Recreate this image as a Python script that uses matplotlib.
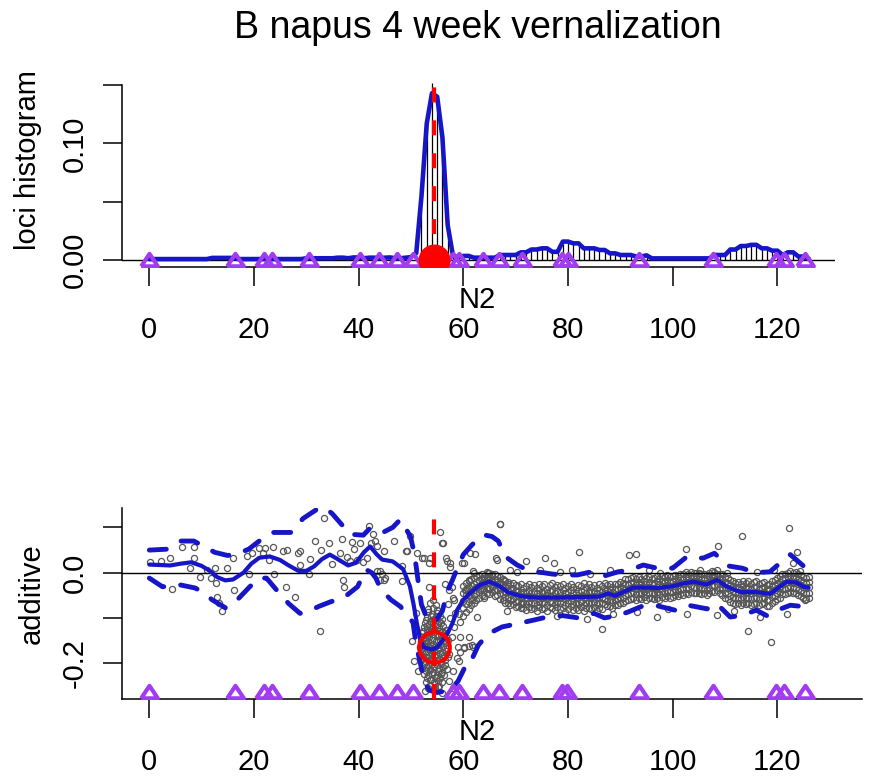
import numpy as np
import matplotlib.pyplot as plt

plt.rcParams['font.family'] = ['Liberation Sans', 'DejaVu Sans']

title = "B napus 4 week vernalization"
x_label = "N2"
y_label_top = "loci histogram"
y_label_bottom = "additive"

# marker positions (cM) and QTL position
marker_cm = [0, 16.4, 22.0, 23.5, 30.6, 40.3, 43.9, 47.3, 50.4, 58.1, 59.1, 63.8,
             66.9, 71.2, 78.9, 79.9, 93.5, 107.7, 119.8, 121.2, 125.3]
qtl_cm = 54.4
qtl_add = -0.165

# top panel: loci histogram (x 1/1000), one bin per cM from 0 to 126
hist_pos = list(range(127))
hist_milli = [0.5, 0.5, 0.5, 0.5, 0.5, 0.5, 0.5, 0.5, 0.5, 0.5,
              0.5, 0.5, 1.5, 1.5, 1.5, 1.5, 1.5, 0.5, 0.5, 0.5,
              0.5, 0.5, 0.5, 0.5, 0.5, 0.5, 0.5, 0.5, 0.5, 0.5,
              1, 1, 1, 1, 1, 1, 1.5, 1.5, 1, 1.5,
              1.5, 1, 1.5, 1.5, 1, 1.5, 1.5, 1, 1, 1.5,
              2, 8, 50, 125, 152, 140, 100, 35, 5, 2,
              3, 3, 2, 2, 2, 2, 2, 4, 4, 4,
              4, 6, 6, 8.5, 8.5, 9.5, 9.5, 6.5, 6, 14,
              15, 13.5, 13.5, 9.5, 9.5, 9.5, 8, 8, 5.5, 5.5,
              4, 4, 4, 2.5, 2.5, 3.5, 1, 1, 1, 1,
              1, 1, 1, 1, 1, 1, 1, 1, 4, 4,
              4, 8.5, 8.5, 11.5, 11.5, 12.5, 12.5, 9.5, 9.5, 7.5,
              7.5, 4, 4, 6, 2.5, 2.5, 0.5]
dens_milli = [0.8, 0.8, 0.8, 0.8, 0.8, 0.8, 0.8, 0.8, 0.8, 0.8,
              0.8, 0.8, 1.8, 1.8, 1.8, 1.8, 1.8, 0.8, 0.8, 0.8,
              0.8, 0.8, 0.8, 0.8, 0.8, 0.8, 0.8, 0.8, 0.8, 0.8,
              1.5, 1.5, 1.5, 1.5, 1.5, 1.5, 2, 2, 1.5, 2.2,
              2.2, 1.5, 2, 2, 1.5, 2, 2.2, 1.5, 1.5, 2,
              2.5, 6, 55, 117, 143, 140, 105, 30, 4, 2,
              3.5, 3.5, 2, 2, 2, 2, 2, 4.3, 4.3, 4.3,
              4.3, 6.6, 6.6, 9, 9, 10, 10, 7, 7, 15.8,
              15.8, 14.3, 14.3, 10, 10, 10, 8.6, 8.6, 5.7, 5.7,
              4.3, 4.3, 4.3, 3, 3, 4, 1.4, 1.4, 1.4, 1.4,
              1.4, 1.4, 1.4, 1.4, 1.4, 1.4, 1.4, 1.4, 4.3, 4.3,
              4.3, 9, 9, 12, 12, 13, 13, 10, 10, 8,
              8, 4.3, 6.6, 6.6, 3, 3, 1]

# bottom panel: smoothed additive effect and its band
mean_cm = [0, 2, 4, 6, 8, 10, 11.7, 13, 14.5, 16, 18, 19.5, 21, 23, 25, 26.5, 28.5, 30,
           31.5, 33, 34.5, 36, 38, 39.5, 41, 42.2, 43.5, 44.5, 46.5, 48.5, 49.8, 50.5,
           51.1, 51.8, 52.5, 54, 55, 56, 57, 58, 58.8, 60, 61.3, 63.2, 65, 67, 68.5, 71,
           74, 78, 82, 86, 87.6, 89, 92.5, 95, 97, 100, 102, 104, 106.5, 108.5, 110.4,
           113, 116, 118.6, 120, 121.8, 123.7, 125, 126]
mean_add = [0.018, 0.017, 0.016, 0.020, 0.023, 0.015, 0.003, -0.010, -0.017, -0.015,
            0.000, 0.020, 0.033, 0.036, 0.028, 0.017, 0.004, 0.004, 0.014, 0.030, 0.040,
            0.030, 0.016, 0.022, 0.045, 0.058, 0.040, 0.029, 0.025, 0.008, -0.030, -0.070,
            -0.110, -0.150, -0.165, -0.170, -0.165, -0.150, -0.134, -0.110, -0.083, -0.060,
            -0.045, -0.027, -0.020, -0.030, -0.043, -0.052, -0.055, -0.055, -0.054, -0.053,
            -0.046, -0.051, -0.033, -0.033, -0.034, -0.030, -0.024, -0.020, -0.026, -0.016,
            -0.031, -0.043, -0.043, -0.047, -0.035, -0.020, -0.022, -0.031, -0.033]
upper_cm = [0, 3.4, 6, 8.5, 10.5, 12.5, 15, 17.5, 19, 21, 23.6, 27, 29.4, 32, 33.5, 35,
            36.5, 38.4, 40.9, 42.3, 44.8, 46.5, 48, 49.9, 50.5, 51, 51.5, 52, 53, 54.5,
            56, 57, 57.9, 58.5, 60, 61.7, 63.8, 65.5, 66.7, 68, 70.3, 72.8, 75.3, 77, 78.9,
            81.8, 84.5, 87, 89.6, 91.9, 94.4, 97, 100, 102.8, 105.8, 108, 110.6, 113.3,
            115.8, 118.6, 120.5, 122.5, 125, 126]
upper_add = [0.050, 0.052, 0.070, 0.070, 0.058, 0.045, 0.038, 0.045, 0.052, 0.070, 0.089,
             0.089, 0.120, 0.140, 0.145, 0.130, 0.110, 0.085, 0.083, 0.100, 0.090, 0.100,
             0.118, 0.080, 0.050, 0.014, -0.030, -0.070, -0.100, -0.110, -0.085, -0.040,
             -0.017, 0.000, 0.040, 0.062, 0.084, 0.080, 0.070, 0.036, 0.017, 0.003, 0.000,
             -0.003, -0.005, -0.005, 0.002, -0.007, 0.002, 0.006, 0.017, 0.010, 0.010,
             0.036, 0.032, 0.043, 0.015, 0.010, 0.000, 0.002, 0.021, 0.040, 0.015, 0.020]
lower_cm = [0, 2.5, 4.5, 5.9, 8.8, 10.5, 12, 14.6, 16, 17.3, 19.2, 21, 22.4, 24.3, 26.6,
            28.8, 30.5, 32.3, 34.5, 37.3, 39.8, 41.4, 42.5, 43.3, 44.3, 46.2, 48, 49.3,
            50.4, 51, 51.8, 52.5, 53.5, 55, 57.5, 59, 60.7, 61.3, 62.9, 64.8, 67.4, 70.3,
            73.4, 76, 79, 82, 85, 87, 89.4, 91.5, 94.4, 97, 100.5, 103, 106.6, 108.5, 111,
            113, 116, 118, 120, 122.5, 125, 126]
lower_add = [-0.012, -0.031, -0.030, -0.027, -0.034, -0.045, -0.060, -0.078, -0.070,
             -0.054, -0.031, -0.012, -0.012, -0.038, -0.068, -0.090, -0.085, -0.075,
             -0.065, -0.054, -0.031, 0.007, 0.000, -0.012, -0.038, -0.060, -0.075, -0.094,
             -0.110, -0.160, -0.200, -0.240, -0.260, -0.265, -0.260, -0.240, -0.200, -0.200,
             -0.160, -0.135, -0.120, -0.113, -0.105, -0.098, -0.095, -0.100, -0.090, -0.100,
             -0.095, -0.087, -0.073, -0.073, -0.083, -0.072, -0.080, -0.069, -0.098, -0.095,
             -0.083, -0.095, -0.083, -0.072, -0.075, -0.078]

# scattered individual estimates (read point by point)
scat_cm = [0.2, 2.2, 4.0, 4.4, 6.2, 7.7, 8.5, 8.5, 9.6, 11.0, 11.7, 12.6, 12.8, 13.0, 13.4,
           13.9, 14.8, 16.0, 16.1, 18.7, 19.0, 19.6, 20.9, 21.8, 22.2, 22.8, 23.6, 23.8,
           25.5, 26.3, 26.2, 27.8, 28.5, 28.8, 28.8, 30.6, 30.7, 31.6, 32.7, 32.8, 33.3,
           34.4, 34.9, 36.5, 36.8, 37.1, 37.2, 37.8, 38.3, 38.7, 39.2, 39.7, 40.3, 40.9,
           41.6, 41.9, 42.3, 42.7, 43.2, 43.5, 44.0, 44.4, 44.8, 44.8, 45.1, 46.7, 48.3,
           49.1, 49.9, 52.1, 53.7,
           43.5, 44.1, 49.2, 50.2, 52.4, 53.5, 53.5, 54.3, 55.9, 56.7, 57.4, 57.8, 58.1,
           58.5, 58.9, 59.4, 59.7, 60.7, 61.3, 61.9, 62.6, 63.5, 64.8, 66.4, 67.0, 67.7,
           50.5, 51.4, 52.7, 54.6, 55.9, 57.2, 58.1, 59.1, 60.1, 61.0, 61.9, 58.1, 55.6,
           48.3, 51.1, 51.0, 50.8, 57.5, 57.0,
           56.9, 57.5, 56.6, 57.2, 58.2, 59.1, 58.2, 59.4, 60.1, 61.0, 61.7, 58.8, 57.8,
           60.4, 61.0, 62.0, 62.6, 63.2, 64.5, 64.8, 61.7, 63.9, 65.8, 66.8, 67.7, 69.0,
           70.3, 71.2, 59.4, 56.2,
           60.1, 62.3, 66.3, 72.0, 75.7, 77.3, 82.2, 91.6, 93.0, 102.6, 108.6, 113.3, 122.2,
           123.8, 67.1, 86.6, 99.2, 114.4, 118.8, 68.4, 74.7, 78.5, 80.8, 84.3, 88.1, 95.4,
           97.6, 105.3, 110.4, 116.1, 119.3, 124.4, 78.0, 83.6, 88.7, 93.2, 97.0, 102.7,
           108.5, 111.7, 116.8, 121.8, 125.3, 123.0]
scat_add = [0.023, 0.025, 0.033, -0.036, 0.057, 0.010, 0.057, 0.033, -0.010, 0.007, -0.012,
            0.010, -0.023, -0.053, -0.068, -0.084, 0.010, 0.033, -0.038, 0.037, -0.004,
            0.044, 0.055, 0.044, 0.055, 0.028, 0.057, -0.004, 0.048, 0.051, -0.032, -0.053,
            0.044, 0.048, 0.018, -0.004, 0.031, 0.070, -0.128, 0.050, 0.122, 0.066, 0.020,
            0.044, 0.074, -0.016, -0.031, 0.035, 0.025, 0.068, 0.053, 0.029, 0.066, 0.023,
            0.033, 0.104, 0.066, 0.085, 0.070, 0.059, 0.003, -0.004, -0.016, 0.048, -0.012,
            0.070, -0.019, 0.048, 0.081, 0.033, 0.033,
            0.003, -0.016, 0.048, -0.150, 0.033, 0.022, -0.031, -0.060, 0.066, 0.033, 0.022,
            -0.031, -0.057, -0.090, -0.165, -0.176, 0.022, -0.034, 0.044, 0.003, -0.098,
            -0.023, -0.016, 0.029, 0.107, -0.060,
            -0.195, -0.217, -0.262, -0.254, -0.266, -0.240, -0.217, -0.195, -0.165, -0.142,
            -0.165, -0.254, 0.089, 0.014, 0.044, -0.090, -0.120, -0.100, -0.070,
            0.025, 0.012, -0.024, -0.039, -0.061, -0.091, -0.121, -0.143, -0.166, -0.162,
            -0.160, -0.188, -0.143, -0.039, -0.016, -0.001, -0.031, -0.039, -0.016, -0.001,
            -0.061, -0.057, -0.039, -0.024, -0.016, 0.006, 0.002, -0.069, -0.110, 0.066,
            0.021, 0.042, 0.032, 0.025, 0.032, 0.022, 0.045, 0.040, 0.041, 0.052, 0.060,
            0.082, 0.099, 0.045, 0.107, -0.125, -0.080, -0.128, -0.153, -0.084, 0.006,
            0.002, 0.007, -0.002, 0.006, 0.006, -0.001, 0.006, -0.001, 0.002, 0.007, 0.004,
            -0.095, -0.102, -0.091, -0.087, -0.098, -0.091, -0.093, -0.084, -0.098, -0.091,
            -0.061, 0.022]

# dense cluster under the QTL
blob_cm = [53.6, 54.8,
           53.2, 54.1, 55.0,
           52.8, 53.6, 54.4, 55.3, 56.0,
           52.4, 53.1, 53.8, 54.6, 55.4, 56.2,
           52.1, 52.8, 53.5, 54.2, 55.0, 55.7, 56.5,
           51.9, 52.6, 53.3, 54.0, 54.7, 55.5, 56.3, 57.0,
           51.8, 52.5, 53.2, 53.9, 54.6, 55.3, 56.1, 56.9,
           51.9, 52.6, 53.3, 54.0, 54.8, 55.6, 56.4, 57.2,
           52.0, 52.8, 53.5, 54.3, 55.0, 55.8, 56.6,
           52.2, 53.0, 53.7, 54.5, 55.3, 56.1, 56.9,
           52.5, 53.3, 54.1, 54.9, 55.7, 56.4,
           52.8, 53.6, 54.4, 55.2, 56.0,
           53.3, 54.2, 55.1,
           53.3, 54.2, 55.0,
           53.0, 53.9, 54.7, 55.5,
           52.6, 53.4, 54.2, 55.0, 55.8,
           52.3, 53.0, 53.8, 54.5, 55.3, 56.0, 56.7,
           52.0, 52.7, 53.5, 54.3, 55.1, 55.9, 56.7,
           52.1, 52.9, 53.6, 54.3, 55.1, 55.8, 56.6,
           52.1, 52.9, 53.6, 54.4, 55.1, 55.9, 56.7,
           52.3, 53.1, 53.9, 54.6, 55.4, 56.2, 57.0,
           52.5, 53.3, 54.1, 54.9, 55.7, 56.5,
           52.8, 53.6, 54.3, 55.1, 55.9,
           53.1, 53.9, 54.7, 55.5,
           53.7, 54.6, 55.4]
blob_add = [-0.068, -0.072,
            -0.088, -0.092, -0.089,
            -0.104, -0.107, -0.103, -0.106, -0.102,
            -0.121, -0.118, -0.122, -0.119, -0.121, -0.117,
            -0.134, -0.137, -0.133, -0.136, -0.135, -0.138, -0.133,
            -0.151, -0.148, -0.152, -0.149, -0.151, -0.148, -0.152, -0.149,
            -0.164, -0.167, -0.163, -0.166, -0.165, -0.167, -0.163, -0.166,
            -0.181, -0.178, -0.182, -0.179, -0.181, -0.178, -0.182, -0.179,
            -0.194, -0.197, -0.193, -0.196, -0.194, -0.197, -0.193,
            -0.211, -0.208, -0.212, -0.209, -0.211, -0.208, -0.212,
            -0.224, -0.227, -0.223, -0.226, -0.224, -0.227,
            -0.241, -0.238, -0.242, -0.239, -0.241,
            -0.254, -0.257, -0.253,
            -0.080, -0.078, -0.082,
            -0.097, -0.095, -0.099, -0.096,
            -0.112, -0.114, -0.110, -0.113, -0.111,
            -0.128, -0.126, -0.129, -0.127, -0.130, -0.128, -0.126,
            -0.143, -0.145, -0.142, -0.144, -0.141, -0.145, -0.143,
            -0.158, -0.156, -0.159, -0.157, -0.160, -0.158, -0.156,
            -0.173, -0.175, -0.172, -0.174, -0.171, -0.175, -0.173,
            -0.188, -0.186, -0.189, -0.187, -0.190, -0.188, -0.186,
            -0.203, -0.205, -0.202, -0.204, -0.201, -0.205,
            -0.218, -0.216, -0.219, -0.217, -0.220,
            -0.233, -0.235, -0.232, -0.234,
            -0.248, -0.246, -0.250]

# dense band right of the QTL: columns every 0.5 cM, five estimates each (x 1/1000)
band_pos = [60.0, 60.5, 61.0, 61.5, 62.0, 62.5, 63.0, 63.5, 64.0, 64.5,
            65.0, 65.5, 66.0, 66.5, 67.0, 67.5, 68.0, 68.5, 69.0, 69.5,
            70.0, 70.5, 71.0, 71.5, 72.0, 72.5, 73.0, 73.5, 74.0, 74.5,
            75.0, 75.5, 76.0, 76.5, 77.0, 77.5, 78.0, 78.5, 79.0, 79.5,
            80.0, 80.5, 81.0, 81.5, 82.0, 82.5, 83.0, 83.5, 84.0, 84.5,
            85.0, 85.5, 86.0, 86.5, 87.0, 87.5, 88.0, 88.5, 89.0, 89.5,
            90.0, 90.5, 91.0, 91.5, 92.0, 92.5, 93.0, 93.5, 94.0, 94.5,
            95.0, 95.5, 96.0, 96.5, 97.0, 97.5, 98.0, 98.5, 99.0, 99.5,
            100.0, 100.5, 101.0, 101.5, 102.0, 102.5, 103.0, 103.5, 104.0, 104.5,
            105.0, 105.5, 106.0, 106.5, 107.0, 107.5, 108.0, 108.5, 109.0, 109.5,
            110.0, 110.5, 111.0, 111.5, 112.0, 112.5, 113.0, 113.5, 114.0, 114.5,
            115.0, 115.5, 116.0, 116.5, 117.0, 117.5, 118.0, 118.5, 119.0, 119.5,
            120.0, 120.5, 121.0, 121.5, 122.0, 122.5, 123.0, 123.5, 124.0, 124.5,
            125.0, 125.5, 126.0]
band_mid = [-62, -50, -49, -40, -39, -31, -30, -24, -26, -20,
            -22, -19, -26, -25, -33, -33, -42, -41, -48, -46,
            -52, -49, -54, -51, -56, -52, -55, -53, -57, -52,
            -55, -53, -56, -52, -54, -57, -53, -55, -52, -56,
            -54, -51, -56, -53, -55, -52, -57, -54, -53, -55,
            -52, -56, -53, -55, -46, -49, -48, -52, -49, -47,
            -44, -43, -37, -36, -34, -31, -35, -32, -34, -31,
            -35, -32, -33, -34, -31, -35, -29, -31, -28, -30,
            -29, -26, -27, -23, -24, -21, -22, -18, -19, -20,
            -20, -23, -22, -25, -21, -16, -17, -14, -21, -24,
            -31, -33, -39, -40, -44, -42, -45, -41, -44, -42,
            -45, -43, -42, -46, -44, -43, -47, -48, -41, -39,
            -34, -31, -24, -23, -21, -19, -22, -21, -26, -27,
            -31, -33, -32]
band_hi = [-30, -22, -18, -15, -12, -8, -5, -3, -8, 2,
           0, -4, -2, -8, -10, -14, -18, -20, -25, -22,
           -28, -30, -26, -33, -29, -25, -31, -27, -34, -24,
           -30, -26, -35, -28, -23, -32, -27, -30, -25, -33,
           -29, -24, -31, -35, -27, -30, -23, -32, -26, -31,
           -28, -33, -25, -30, -22, -27, -26, -31, -24, -25,
           -20, -22, -15, -13, -12, -9, -14, -10, -13, -8,
           -12, -9, -14, -11, -8, -13, -7, -10, -6, -9,
           -8, -5, -7, -2, -4, 1, -3, 2, -1, 0,
           -1, -4, -2, -6, 0, 3, 1, 5, -2, -3,
           -10, -12, -17, -19, -22, -20, -25, -18, -23, -19,
           -24, -21, -19, -26, -22, -20, -27, -25, -19, -16,
           -12, -8, -3, -2, 0, 3, -1, 1, -4, -6,
           -9, -12, -10]
band_q1 = [-45, -38, -33, -28, -25, -20, -17, -12, -15, -9,
           -11, -8, -14, -16, -21, -24, -30, -29, -37, -33,
           -40, -41, -42, -43, -44, -40, -45, -41, -46, -39,
           -44, -40, -46, -41, -39, -45, -41, -44, -38, -46,
           -42, -38, -44, -45, -41, -40, -39, -44, -40, -43,
           -40, -45, -39, -43, -35, -38, -37, -42, -37, -36,
           -32, -33, -26, -25, -23, -20, -25, -21, -24, -19,
           -24, -21, -23, -22, -19, -24, -18, -21, -17, -20,
           -18, -15, -17, -12, -14, -10, -12, -8, -10, -9,
           -10, -13, -11, -15, -10, -6, -8, -4, -11, -13,
           -20, -22, -28, -30, -33, -31, -35, -30, -34, -31,
           -35, -32, -31, -36, -33, -32, -37, -37, -30, -28,
           -23, -20, -13, -12, -10, -8, -11, -10, -15, -16,
           -20, -22, -21]
band_q3 = [-78, -70, -64, -57, -52, -46, -43, -37, -39, -33,
           -35, -31, -39, -38, -46, -47, -54, -55, -60, -58,
           -64, -62, -67, -64, -69, -64, -68, -66, -71, -64,
           -68, -65, -71, -64, -67, -70, -64, -68, -65, -71,
           -67, -63, -70, -66, -69, -64, -71, -66, -65, -68,
           -64, -70, -66, -68, -58, -62, -61, -65, -61, -59,
           -56, -55, -50, -48, -46, -43, -48, -44, -47, -43,
           -48, -44, -45, -47, -43, -48, -41, -44, -40, -43,
           -42, -38, -40, -35, -37, -33, -35, -30, -32, -33,
           -32, -36, -34, -38, -33, -28, -30, -26, -34, -37,
           -44, -46, -52, -53, -57, -55, -59, -54, -57, -55,
           -58, -56, -55, -59, -57, -56, -60, -61, -54, -51,
           -46, -43, -36, -35, -33, -31, -34, -33, -38, -40,
           -44, -46, -45]
band_lo = [-95, -88, -80, -72, -66, -60, -55, -50, -52, -45,
           -47, -43, -52, -50, -58, -60, -66, -68, -72, -70,
           -76, -74, -79, -77, -82, -75, -80, -78, -84, -76,
           -81, -77, -85, -76, -79, -83, -75, -81, -78, -86,
           -80, -74, -83, -79, -82, -76, -85, -78, -77, -81,
           -75, -84, -78, -80, -70, -74, -73, -77, -72, -71,
           -68, -66, -62, -60, -58, -55, -60, -56, -59, -54,
           -60, -56, -57, -59, -55, -61, -53, -56, -52, -55,
           -54, -50, -52, -47, -49, -45, -47, -42, -44, -45,
           -44, -48, -46, -50, -45, -40, -42, -38, -46, -49,
           -56, -58, -64, -66, -70, -67, -72, -66, -70, -68,
           -71, -69, -67, -72, -70, -68, -73, -74, -66, -63,
           -58, -55, -48, -47, -45, -43, -46, -45, -50, -52,
           -56, -58, -57]

blue = '#1616c8'
purple = '#a23cf0'
grey = '#575757'
tri = [(-1, -0.7), (1, -0.7), (0, 0.8), (-1, -0.7)]

W, H = 870, 778
fig = plt.figure(figsize=(W / 100, H / 100), dpi=100)


def add_px_axes(left, top, right, bottom):
    return fig.add_axes([left / W, 1 - bottom / H, (right - left) / W, (bottom - top) / H])


def fig_text(x, y, s, **kw):
    fig.text(x / W, 1 - y / H, s, ha='center', va='center', **kw)


pt_style = dict(ls='none', marker='o', ms=4.4, mfc='none', mec=grey, mew=0.9, zorder=2)
tri_style = dict(ls='none', marker=tri, ms=12, mfc='none', mec=purple, mew=3.0)

# ---------------- top panel ----------------
ax1 = add_px_axes(122, 76, 835, 267)
hist_vals = np.array(hist_milli) / 1000
dens_vals = np.array(dens_milli) / 1000
ax1.vlines(hist_pos, 0, hist_vals, color='black', lw=0.9, zorder=2)
ax1.axhline(0, color='black', lw=1.0, zorder=1)
ax1.plot(hist_pos, dens_vals, color=blue, lw=3.3, solid_joinstyle='round',
         solid_capstyle='round', zorder=3)
ax1.plot(marker_cm, [0] * len(marker_cm), zorder=4, **tri_style)
ax1.plot([qtl_cm], [0], 'o', color='red', ms=22, zorder=5)
ax1.axvline(qtl_cm, color='red', lw=3, ls=(0, (3.6, 4.3)), zorder=6)
ax1.set_xlim(-5.22, 131.0)
ax1.set_ylim(-0.006, 0.1578)
ax1.set_xticks([0, 20, 40, 60, 80, 100, 120])
ax1.set_yticks([0, 0.05, 0.10, 0.15])
ax1.set_yticklabels(['0.00', '', '0.10', ''])
for s in ['top', 'right']:
    ax1.spines[s].set_visible(False)
ax1.spines['left'].set_bounds(0, 0.15)
ax1.spines['bottom'].set_bounds(0, 120)

# ---------------- bottom panel ----------------
ax2 = add_px_axes(122, 508, 862, 699)
band_vals = np.array(band_mid + band_hi + band_q1 + band_q3 + band_lo) / 1000
ax2.plot(band_pos * 5, band_vals, **pt_style)
ax2.plot(blob_cm, blob_add, **pt_style)
ax2.plot(scat_cm, scat_add, **pt_style)
ax2.axhline(0, color='black', lw=1.0, zorder=3)
ax2.plot(mean_cm, mean_add, color=blue, lw=3.0, solid_capstyle='round',
         solid_joinstyle='round', zorder=4)
ax2.plot(upper_cm, upper_add, color=blue, lw=3.5, ls=(0, (3.5, 3.5)),
         dash_capstyle='round', zorder=4)
ax2.plot(lower_cm, lower_add, color=blue, lw=3.5, ls=(0, (3.5, 3.5)),
         dash_capstyle='round', zorder=4)
ax2.axvline(qtl_cm, color='red', lw=3, ls=(0, (3.6, 4.3)), zorder=5)
ax2.plot([qtl_cm], [qtl_add], 'o', ms=22, mfc='none', mec='red', mew=3, zorder=6)
ax2.plot(marker_cm, [-0.264] * len(marker_cm), zorder=6, **tri_style)
ax2.set_xlim(-5.22, 136.2)
ax2.set_ylim(-0.2794, 0.1431)
ax2.set_xticks([0, 20, 40, 60, 80, 100, 120])
ax2.set_yticks([-0.2, -0.1, 0.0, 0.1])
ax2.set_yticklabels(['-0.2', '', '0.0', ''])
for s in ['top', 'right']:
    ax2.spines[s].set_visible(False)

for ax in (ax1, ax2):
    for s in ['left', 'bottom']:
        ax.spines[s].set_linewidth(1.1)
    ax.tick_params(axis='x', length=14, width=1.1, pad=21, labelsize=21)
    ax.tick_params(axis='y', length=14, width=1.1, pad=10, labelsize=21,
                   labelrotation=90)
    for lab in ax.get_yticklabels():
        lab.set_va('center')

fig_text(478, 28, title, fontsize=27)
fig_text(477, 300, x_label, fontsize=21)
fig_text(477, 732, x_label, fontsize=21)
fig_text(28, 160, y_label_top, fontsize=21, rotation=90)
fig_text(32, 594, y_label_bottom, fontsize=21, rotation=90)

fig.savefig('out.png', dpi=100)
